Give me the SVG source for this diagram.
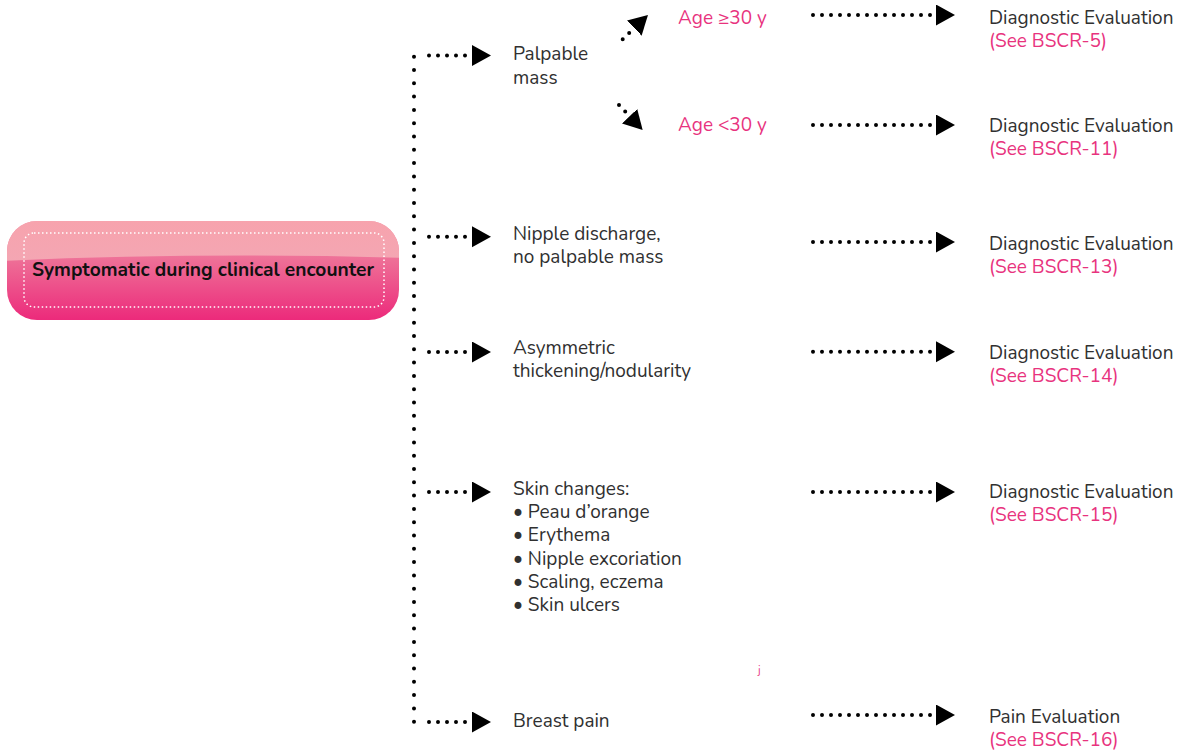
<svg xmlns="http://www.w3.org/2000/svg" width="1181" height="752" viewBox="0 0 1181 752">
  <defs>
    <linearGradient id="boxFill" x1="0" y1="0" x2="0" y2="1">
      <stop offset="0" stop-color="#f29bb0"/>
      <stop offset="0.4" stop-color="#ee6e96"/>
      <stop offset="1" stop-color="#ec2a7b"/>
    </linearGradient>
    <linearGradient id="gloss" x1="0" y1="0" x2="0" y2="1">
      <stop offset="0" stop-color="#f7a3ad"/>
      <stop offset="1" stop-color="#f4a6b3"/>
    </linearGradient>
    <clipPath id="boxClip">
      <rect x="7" y="221" width="392" height="99" rx="30" ry="30"/>
    </clipPath>
    <marker id="head" markerUnits="userSpaceOnUse" markerWidth="20" markerHeight="22" refX="0" refY="10.5" orient="auto">
      <path d="M0,0 L19,10.5 L0,21 Z" fill="#000"/>
    </marker>
  </defs>
  <style>
    .txt { font-family: "Nunito", "Noto Sans", "Liberation Sans", sans-serif; font-size: 19px; fill: #303030; }
    .ref { fill: #e8337e; }
    .title { font-family: "Nunito", "Noto Sans", "Liberation Sans", sans-serif; font-size: 19.2px; font-weight: bold; fill: #111; }
    .dh { fill: none; stroke: #000; stroke-width: 4; stroke-linecap: round; stroke-dasharray: 0 9; }
    .dv { fill: none; stroke: #000; stroke-width: 4; stroke-linecap: round; stroke-dasharray: 0 13.3; }
  </style>

  <rect width="1181" height="752" fill="#fff"/>

  <!-- start node -->
  <g id="start">
    <rect x="7" y="221" width="392" height="99" rx="30" ry="30" fill="url(#boxFill)"/>
    <path d="M0,221 H410 V258 Q203,252 0,261 Z" fill="url(#gloss)" clip-path="url(#boxClip)"/>
    <rect x="24" y="233" width="360" height="74" rx="10" ry="10" fill="none" stroke="#fff" stroke-width="1.5" stroke-dasharray="1.5 2.5"/>
    <text class="title" x="203" y="276" text-anchor="middle">Symptomatic during clinical encounter</text>
  </g>

  <!-- connectors -->
  <g id="connectors">
    <path class="dv" d="M414,56.7 V722"/>
    <path class="dh" d="M429,55.5 H472" marker-end="url(#head)"/>
    <path class="dh" d="M429,236.7 H472" marker-end="url(#head)"/>
    <path class="dh" d="M429,352 H472" marker-end="url(#head)"/>
    <path class="dh" d="M429,492 H472" marker-end="url(#head)"/>
    <path class="dh" d="M429,722 H472" marker-end="url(#head)"/>

    <path class="dh" d="M622.7,39.3 L634.3,28.1" marker-end="url(#head)"/>
    <path class="dh" d="M619,105 L629.6,116.2" marker-end="url(#head)"/>

    <path class="dh" d="M813,15 H936" marker-end="url(#head)"/>
    <path class="dh" d="M813,125 H936" marker-end="url(#head)"/>
    <path class="dh" d="M813,242 H936" marker-end="url(#head)"/>
    <path class="dh" d="M813,351.7 H936" marker-end="url(#head)"/>
    <path class="dh" d="M813,492 H936" marker-end="url(#head)"/>
    <path class="dh" d="M813,715 H936" marker-end="url(#head)"/>
  </g>

  <g id="palpable">
    <text class="txt" x="513" y="60">Palpable</text>
    <text class="txt" x="513" y="84">mass</text>
  </g>
  <g id="age-over-30">
    <text class="txt ref" x="678" y="24">Age ≥30 y</text>
  </g>
  <g id="age-under-30">
    <text class="txt ref" x="678" y="131">Age &lt;30 y</text>
  </g>
  <g id="nipple-discharge">
    <text class="txt" x="513" y="240">Nipple discharge,</text>
    <text class="txt" x="513" y="263">no palpable mass</text>
  </g>
  <g id="asymmetric">
    <text class="txt" x="513" y="354">Asymmetric</text>
    <text class="txt" x="513" y="377">thickening/nodularity</text>
  </g>
  <g id="skin-changes">
    <text class="txt" x="513" y="495">Skin changes:</text>
    <text class="txt" x="513" y="518">• Peau d’orange</text>
    <text class="txt" x="513" y="541">• Erythema</text>
    <text class="txt" x="513" y="565">• Nipple excoriation</text>
    <text class="txt" x="513" y="588">• Scaling, eczema</text>
    <text class="txt" x="513" y="611">• Skin ulcers</text>
  </g>
  <g id="breast-pain">
    <text class="txt" x="513" y="727">Breast pain</text>
  </g>

  <g id="eval-bscr5">
    <text class="txt" x="989" y="24">Diagnostic Evaluation</text>
    <text class="txt ref" x="989" y="47">(See BSCR-5)</text>
  </g>
  <g id="eval-bscr11">
    <text class="txt" x="989" y="132">Diagnostic Evaluation</text>
    <text class="txt ref" x="989" y="155">(See BSCR-11)</text>
  </g>
  <g id="eval-bscr13">
    <text class="txt" x="989" y="250">Diagnostic Evaluation</text>
    <text class="txt ref" x="989" y="273">(See BSCR-13)</text>
  </g>
  <g id="eval-bscr14">
    <text class="txt" x="989" y="359">Diagnostic Evaluation</text>
    <text class="txt ref" x="989" y="382">(See BSCR-14)</text>
  </g>
  <g id="eval-bscr15">
    <text class="txt" x="989" y="498">Diagnostic Evaluation</text>
    <text class="txt ref" x="989" y="521">(See BSCR-15)</text>
  </g>
  <g id="pain-eval">
    <text class="txt" x="989" y="723">Pain Evaluation</text>
    <text class="txt ref" x="989" y="746">(See BSCR-16)</text>
  </g>

  <text class="txt ref" x="758" y="674" style="font-size:11px">j</text>
</svg>
